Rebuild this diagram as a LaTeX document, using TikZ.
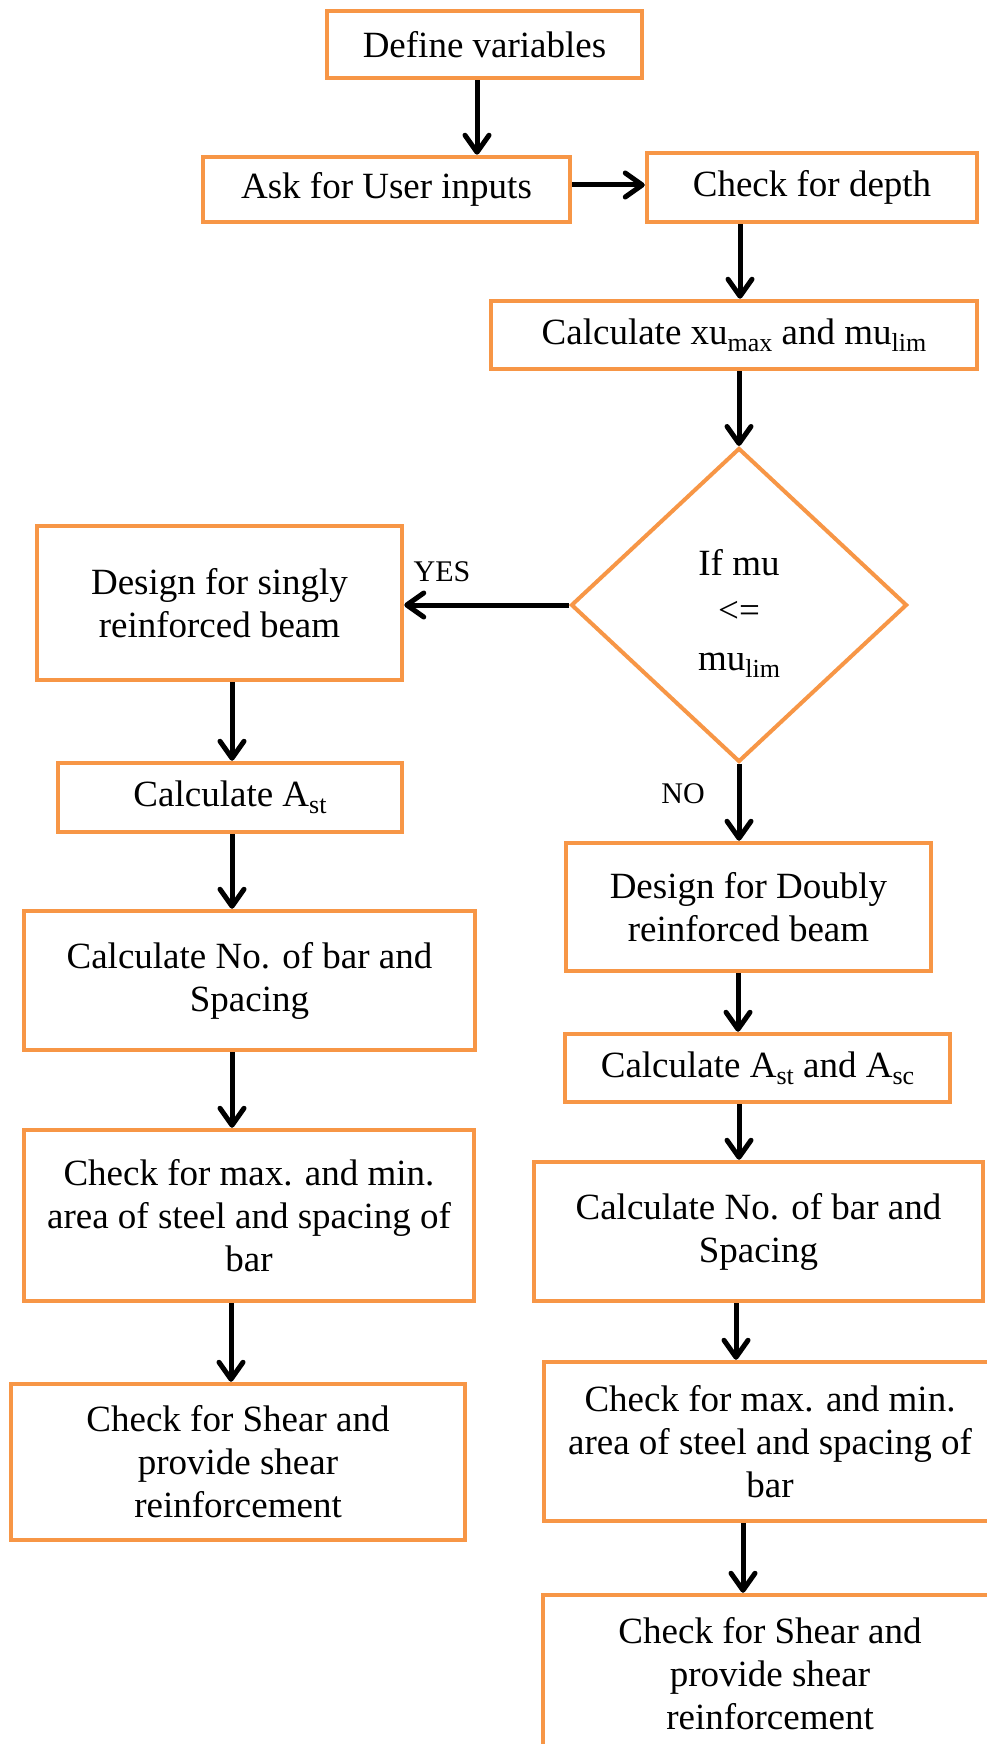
\documentclass[tikz,border=0pt]{standalone}
\usepackage{fontspec}
\setmainfont{Liberation Serif}
\usetikzlibrary{shapes.geometric,arrows.meta}
\definecolor{boxorange}{HTML}{F79646}
\newcommand\sbs[1]{\raisebox{-7pt}{\fontsize{26}{26}\selectfont #1}}
\begin{document}
\begin{tikzpicture}[x=1pt,y=-1pt,
  box/.style={draw=boxorange,line width=4.5pt,rectangle,inner sep=0pt,align=center,
    font=\fontsize{37}{43}\selectfont},
  dec/.style={draw=boxorange,line width=4pt,diamond,inner sep=0pt},
  dectext/.style={inner sep=0pt,align=center,font=\fontsize{37}{47.5}\selectfont},
  lbl/.style={inner sep=0pt,font=\fontsize{30}{34}\selectfont},
  arr/.style={draw=black,line width=5pt,-{Straight Barb[length=17pt,width=24pt,round]}}]
\useasboundingbox (0,0) rectangle (987,1744);
\clip (0,0) rectangle (987,1744);
\fill[white] (0,0) rectangle (987,1744);

\node[box,minimum width=315pt,minimum height=67pt] (define) at (484.5,44.5) {Define variables};
\node[box,minimum width=367pt,minimum height=65pt] (ask) at (386.5,189.5) {Ask for User inputs};
\node[box,minimum width=330pt,minimum height=69pt] (depth) at (812,187.5) {Check for depth};
\node[box,minimum width=486pt,minimum height=68pt] (calcxu) at (734,335) {Calculate xu\sbs{max} and mu\sbs{lim}};
\node[dec,minimum width=336pt,minimum height=314pt] (dia) at (739,605) {};
\node[dectext] (diatxt) at ([yshift=-8pt]dia.center) {If mu\\<=\\mu\sbs{lim}};
\node[box,minimum width=365pt,minimum height=154pt] (singly) at (219.5,603) {Design for singly\\reinforced beam};
\node[box,minimum width=344pt,minimum height=69pt] (ast) at (230,797.5) {Calculate A\sbs{st}};
\node[box,minimum width=451pt,minimum height=139pt] (calcno) at (249.5,980.5) {Calculate No. of bar and\\Spacing};
\node[box,minimum width=450pt,minimum height=171pt] (checkmax) at (249,1215.5) {Check for max. and min.\\area of steel and spacing of\\bar};
\node[box,minimum width=454pt,minimum height=156pt] (shear) at (238,1462) {Check for Shear and\\provide shear\\reinforcement};
\node[box,minimum width=365pt,minimum height=128pt] (doubly) at (748.5,907) {Design for Doubly\\reinforced beam};
\node[box,minimum width=385pt,minimum height=68pt] (astasc) at (757.5,1068) {Calculate A\sbs{st} and A\sbs{sc}};
\node[box,minimum width=449pt,minimum height=139pt] (calcno2) at (758.5,1231.5) {Calculate No. of bar and\\Spacing};
\node[box,minimum width=452pt,minimum height=159pt] (checkmax2) at (770,1441.5) {Check for max. and min.\\area of steel and spacing of\\bar};
\node[box,minimum width=454pt,minimum height=157pt] (shear2) at (770,1673.5) {Check for Shear and\\provide shear\\reinforcement};

\node[lbl] (yes) at (442,572) {YES};
\node[lbl] (no) at (683,794) {NO};

\coordinate (c1) at (477,0);
\coordinate (c2) at (0,185);
\coordinate (c3) at (740,0);
\coordinate (cl) at (232,0);
\coordinate (cl2) at (231,0);
\coordinate (cr1) at (738,0);
\coordinate (cr2) at (736,0);
\coordinate (cr3) at (743,0);

\draw[arr] (define.south -| c1) -- (ask.north -| c1);
\draw[arr] (ask.east |- c2) -- (depth.west |- c2);
\draw[arr] (depth.south -| c3) -- (calcxu.north -| c3);
\draw[arr] (calcxu.south -| dia.north) -- (dia.north);
\draw[arr] (dia.west) -- (singly.east |- dia.west);
\draw[arr] (singly.south -| cl) -- (ast.north -| cl);
\draw[arr] (dia.south) -- (doubly.north -| dia.south);
\draw[arr] (ast.south -| cl) -- (calcno.north -| cl);
\draw[arr] (doubly.south -| cr1) -- (astasc.north -| cr1);
\draw[arr] (calcno.south -| cl) -- (checkmax.north -| cl);
\draw[arr] (astasc.south -| dia.south) -- (calcno2.north -| dia.south);
\draw[arr] (checkmax.south -| cl2) -- (shear.north -| cl2);
\draw[arr] (calcno2.south -| cr2) -- (checkmax2.north -| cr2);
\draw[arr] (checkmax2.south -| cr3) -- (shear2.north -| cr3);
\end{tikzpicture}
\end{document}
